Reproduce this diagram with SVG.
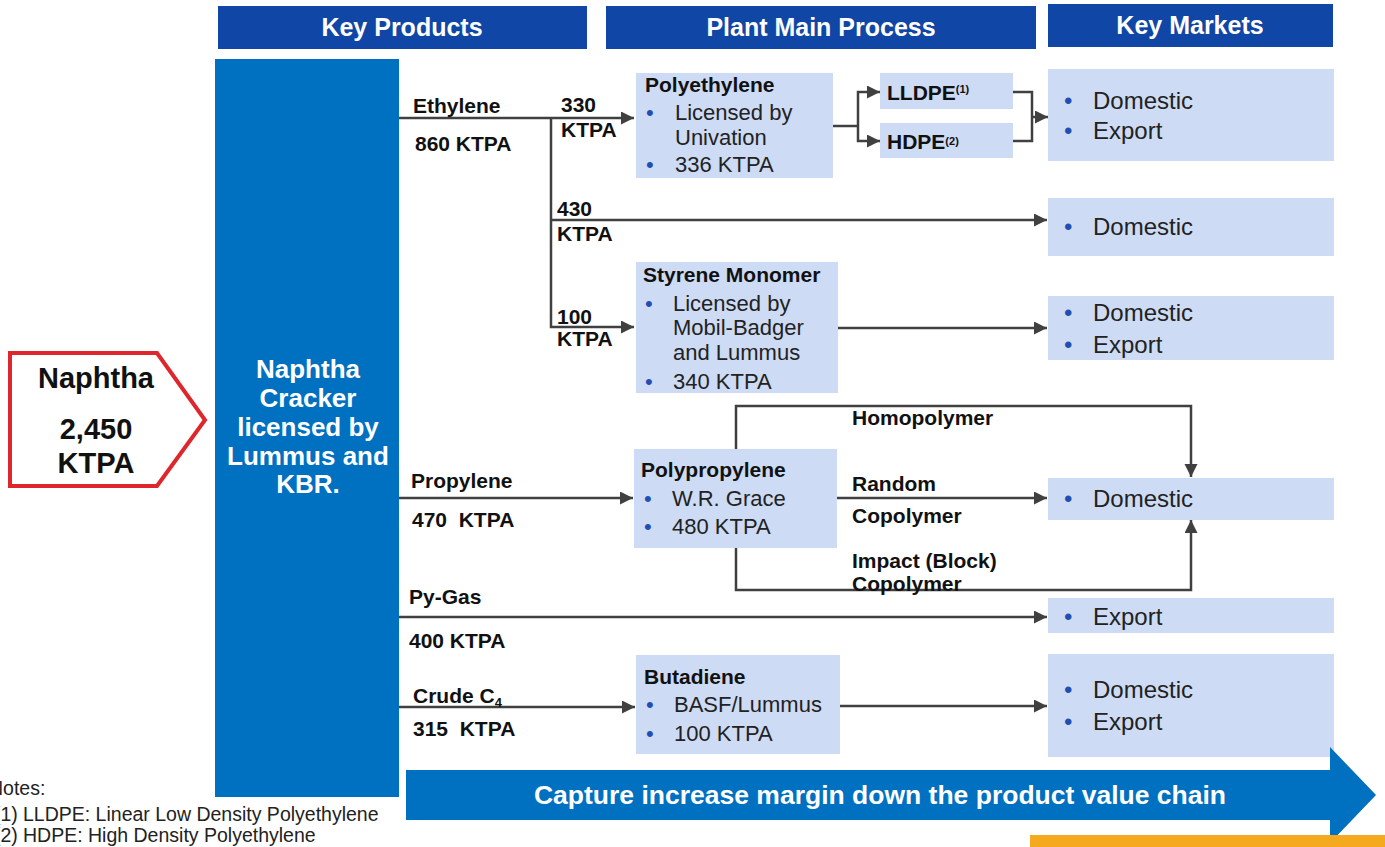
<svg xmlns="http://www.w3.org/2000/svg" width="1385" height="847" viewBox="0 0 1385 847">
  <style>
    text { white-space: pre; }
    .hdr { fill: #1046A6; }
    .hdrt { fill: #fff; font: bold 25px "Liberation Sans", Arial, sans-serif; text-anchor: middle; }
    .box { fill: #CDDBF5; }
    .lbl { fill: #111; font: bold 21px "Liberation Sans", Arial, sans-serif; }
    .txt { fill: #222; font: 22px "Liberation Sans", Arial, sans-serif; }
    .mkt { fill: #222; font: 24px "Liberation Sans", Arial, sans-serif; }
    .dot { fill: #1F4EB4; }
    .wt { fill: #fff; font: bold 26px "Liberation Sans", Arial, sans-serif; text-anchor: middle; }
    .nap { fill: #111; font: bold 29px "Liberation Sans", Arial, sans-serif; text-anchor: middle; }
    .note { fill: #222; font: 19.5px "Liberation Sans", Arial, sans-serif; }
    .ln { fill: none; stroke: #404040; stroke-width: 2.5; }
    .arr { marker-end: url(#ah); }
  </style>
  <defs>
    <marker id="ah" markerUnits="userSpaceOnUse" markerWidth="14" markerHeight="14" refX="13" refY="6.5" orient="auto">
      <path d="M0,0 L13,6.5 L0,13 z" fill="#404040"/>
    </marker>
  </defs>

  <!-- column headers -->
  <g id="hdr-products"><rect class="hdr" x="218" y="6" width="369" height="43"/><text class="hdrt" x="402" y="36">Key Products</text></g>
  <g id="hdr-process"><rect class="hdr" x="606" y="6" width="430" height="43"/><text class="hdrt" x="821" y="36">Plant Main Process</text></g>
  <g id="hdr-markets"><rect class="hdr" x="1048" y="4" width="285" height="43"/><text class="hdrt" x="1190" y="34">Key Markets</text></g>

  <!-- feedstock -->
  <g id="naphtha">
    <path d="M10,353 H157 L205,420 L157,486 H10 Z" fill="#fff" stroke="#E0262D" stroke-width="4"/>
    <text class="nap" x="96" y="388">Naphtha</text>
    <text class="nap" x="96" y="439">2,450</text>
    <text class="nap" x="96" y="473">KTPA</text>
  </g>

  <!-- cracker -->
  <g id="cracker">
    <rect x="215" y="59" width="184" height="738" fill="#0070C0"/>
    <text class="wt" x="308" y="378">Naphtha</text>
    <text class="wt" x="308" y="407">Cracker</text>
    <text class="wt" x="308" y="436">licensed by</text>
    <text class="wt" x="308" y="465">Lummus and</text>
    <text class="wt" x="308" y="493">KBR.</text>
  </g>

  <!-- connectors -->
  <g id="connectors">
    <path class="ln arr" d="M399,118 H634"/>
    <path class="ln arr" d="M551,118 V327 H634"/>
    <path class="ln arr" d="M551,220 H1047"/>
    <path class="ln" d="M833,126 H858"/>
    <path class="ln arr" d="M858,126 V92 H880"/>
    <path class="ln arr" d="M858,126 V141 H880"/>
    <path class="ln" d="M1013,92 H1032 V141 H1013"/>
    <path class="ln arr" d="M1032,117 H1048"/>
    <path class="ln arr" d="M838,328 H1047"/>
    <path class="ln arr" d="M399,498 H633"/>
    <path class="ln arr" d="M736,449 V406 H1191 V477"/>
    <path class="ln arr" d="M837,498 H1047"/>
    <path class="ln arr" d="M736,548 V590 H1191 V520"/>
    <path class="ln arr" d="M399,617 H1047"/>
    <path class="ln arr" d="M399,707 H635"/>
    <path class="ln arr" d="M840,706 H1047"/>
  </g>

  <!-- product labels -->
  <g id="lbl-ethylene">
    <text class="lbl" x="413" y="113">Ethylene</text>
    <text class="lbl" x="415" y="151">860 KTPA</text>
    <text class="lbl" x="561" y="112">330</text>
    <text class="lbl" x="561" y="137">KTPA</text>
    <text class="lbl" x="557" y="216">430</text>
    <text class="lbl" x="557" y="241">KTPA</text>
    <text class="lbl" x="557" y="324">100</text>
    <text class="lbl" x="557" y="346">KTPA</text>
  </g>
  <g id="lbl-propylene">
    <text class="lbl" x="411" y="488">Propylene</text>
    <text class="lbl" x="412" y="527">470  KTPA</text>
  </g>
  <g id="lbl-pygas">
    <text class="lbl" x="409" y="604">Py-Gas</text>
    <text class="lbl" x="409" y="648">400 KTPA</text>
  </g>
  <g id="lbl-c4">
    <text class="lbl" x="413" y="703">Crude C<tspan dy="4" style="font-size:13px">4</tspan></text>
    <text class="lbl" x="413" y="736">315  KTPA</text>
  </g>
  <g id="lbl-pp-grades">
    <text class="lbl" x="852" y="425">Homopolymer</text>
    <text class="lbl" x="852" y="491">Random</text>
    <text class="lbl" x="852" y="523">Copolymer</text>
    <text class="lbl" x="852" y="568">Impact (Block)</text>
    <text class="lbl" x="852" y="591">Copolymer</text>
  </g>

  <!-- process units -->
  <g id="polyethylene">
    <rect class="box" x="636" y="73" width="197" height="105"/>
    <text class="lbl" x="645" y="92">Polyethylene</text>
    <text class="dot txt" x="646" y="120">•</text><text class="txt" x="675" y="120">Licensed by</text>
    <text class="txt" x="675" y="145">Univation</text>
    <text class="dot txt" x="646" y="172">•</text><text class="txt" x="675" y="172">336 KTPA</text>
  </g>
  <g id="lldpe">
    <rect class="box" x="880" y="73" width="133" height="36"/>
    <text class="lbl" x="887" y="100">LLDPE<tspan dy="-7" style="font-size:11px">(1)</tspan></text>
  </g>
  <g id="hdpe">
    <rect class="box" x="880" y="123" width="133" height="35"/>
    <text class="lbl" x="887" y="149">HDPE<tspan dy="-4" style="font-size:11px">(2)</tspan></text>
  </g>
  <g id="styrene">
    <rect class="box" x="636" y="262" width="202" height="131"/>
    <text class="lbl" x="643" y="282">Styrene Monomer</text>
    <text class="dot txt" x="645" y="311">•</text><text class="txt" x="673" y="311">Licensed by</text>
    <text class="txt" x="673" y="335">Mobil-Badger</text>
    <text class="txt" x="673" y="360">and Lummus</text>
    <text class="dot txt" x="645" y="389">•</text><text class="txt" x="673" y="389">340 KTPA</text>
  </g>
  <g id="polypropylene">
    <rect class="box" x="634" y="449" width="203" height="99"/>
    <text class="lbl" x="641" y="477">Polypropylene</text>
    <text class="dot txt" x="644" y="506">•</text><text class="txt" x="672" y="506">W.R. Grace</text>
    <text class="dot txt" x="644" y="534">•</text><text class="txt" x="672" y="534">480 KTPA</text>
  </g>
  <g id="butadiene">
    <rect class="box" x="636" y="655" width="204" height="99"/>
    <text class="lbl" x="644" y="684">Butadiene</text>
    <text class="dot txt" x="646" y="712">•</text><text class="txt" x="674" y="712">BASF/Lummus</text>
    <text class="dot txt" x="646" y="741">•</text><text class="txt" x="674" y="741">100 KTPA</text>
  </g>

  <!-- markets -->
  <g id="mkt-pe">
    <rect class="box" x="1048" y="69" width="286" height="92"/>
    <text class="dot mkt" x="1064" y="109">•</text><text class="mkt" x="1093" y="109">Domestic</text>
    <text class="dot mkt" x="1064" y="139">•</text><text class="mkt" x="1093" y="139">Export</text>
  </g>
  <g id="mkt-ethylene">
    <rect class="box" x="1048" y="198" width="286" height="58"/>
    <text class="dot mkt" x="1064" y="235">•</text><text class="mkt" x="1093" y="235">Domestic</text>
  </g>
  <g id="mkt-styrene">
    <rect class="box" x="1048" y="296" width="286" height="64"/>
    <text class="dot mkt" x="1064" y="321">•</text><text class="mkt" x="1093" y="321">Domestic</text>
    <text class="dot mkt" x="1064" y="353">•</text><text class="mkt" x="1093" y="353">Export</text>
  </g>
  <g id="mkt-pp">
    <rect class="box" x="1048" y="478" width="286" height="42"/>
    <text class="dot mkt" x="1064" y="507">•</text><text class="mkt" x="1093" y="507">Domestic</text>
  </g>
  <g id="mkt-pygas">
    <rect class="box" x="1048" y="598" width="286" height="35"/>
    <text class="dot mkt" x="1064" y="625">•</text><text class="mkt" x="1093" y="625">Export</text>
  </g>
  <g id="mkt-butadiene">
    <rect class="box" x="1048" y="654" width="286" height="103"/>
    <text class="dot mkt" x="1064" y="698">•</text><text class="mkt" x="1093" y="698">Domestic</text>
    <text class="dot mkt" x="1064" y="730">•</text><text class="mkt" x="1093" y="730">Export</text>
  </g>

  <!-- value chain arrow -->
  <g id="value-chain">
    <path d="M406,770 H1330 V747 L1376,795 L1330,843 V820 H406 Z" fill="#0070C0"/>
    <text class="wt" x="880" y="804" style="font-size:26.5px">Capture increase margin down the product value chain</text>
  </g>
  <rect x="1030" y="835" width="355" height="12" fill="#F5A91E"/>

  <!-- footnotes -->
  <g id="notes">
    <text class="note" x="-11" y="795">Notes:</text>
    <text class="note" x="-6" y="821">(1)<tspan x="23">LLDPE: Linear Low Density Polyethylene</tspan></text>
    <text class="note" x="-6" y="842">(2)<tspan x="23">HDPE: High Density Polyethylene</tspan></text>
  </g>
</svg>
